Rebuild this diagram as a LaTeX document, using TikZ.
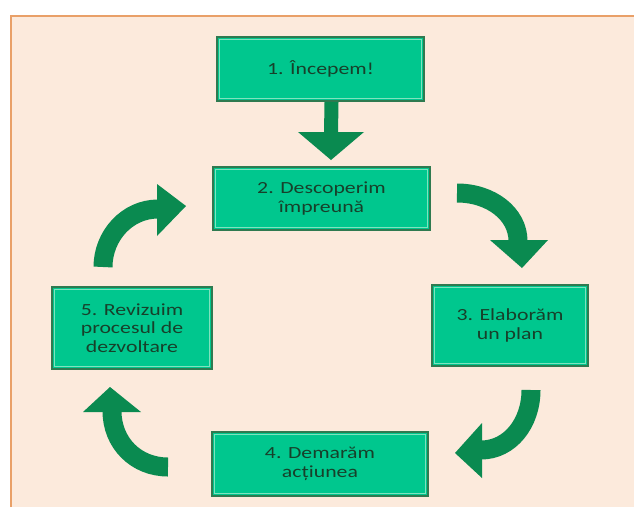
\documentclass[tikz,border=0pt]{standalone}
\usepackage{fontspec}
\setmainfont{Carlito}
\newfontfamily\boxfont[FakeStretch=1.28]{Carlito}
\definecolor{bgpeach}{HTML}{FCEADC}
\definecolor{frameor}{HTML}{E9A068}
\definecolor{boxfill}{HTML}{00C78E}
\definecolor{boxline}{HTML}{2F7A50}
\definecolor{boxinner}{HTML}{80E2BE}
\definecolor{arrowgreen}{HTML}{0A8A50}
\definecolor{textgreen}{HTML}{17402A}
\tikzset{
  stepbox/.style={draw=boxline, line width=2pt, fill=boxfill, text=textgreen,
    align=center, inner sep=0pt, font=\boxfont\fontsize{17}{18.5}\selectfont},
  bandline/.style={draw=arrowgreen, line width=19pt, line cap=butt},
  headtri/.style={fill=arrowgreen, draw=none}
}
\newcommand{\innerframe}[1]{%
  \draw[boxinner, line width=1pt] ([xshift=3.5pt,yshift=-3.5pt]#1.north west) rectangle ([xshift=-3.5pt,yshift=3.5pt]#1.south east);}
\begin{document}
\begin{tikzpicture}[x=1pt,y=-1pt]
\useasboundingbox (0,0) rectangle (634,507);
\fill[white] (0,0) rectangle (634,507);
\fill[bgpeach] (10,15) rectangle (634,507);
\draw[frameor, line width=2.5pt] (11,507) -- (11,16) -- (634,16);

\node[stepbox, minimum width=207pt, minimum height=64pt] (b1) at (320.5,69) {1. Începem!};
\node[stepbox, minimum width=217pt, minimum height=63pt] (b2) at (321.5,198.5) {2. Descoperim\\împreună};
\node[stepbox, minimum width=156pt, minimum height=81pt] (b3) at (510,325.5) {3. Elaborăm\\un plan};
\node[stepbox, minimum width=216pt, minimum height=64pt] (b4) at (320,464) {4. Demarăm\\acțiunea};
\node[stepbox, minimum width=160pt, minimum height=82pt] (b5) at (132,328) {5. Revizuim\\procesul de\\dezvoltare};
\foreach \b in {b1,b2,b3,b4,b5} {\innerframe{\b}}

% straight arrow 1 -> 2
\coordinate (s1) at ([xshift=11pt]b1.south);
\coordinate (h1) at (331,134);
\draw[draw=arrowgreen, line width=14pt] (s1) -- (h1);
\fill[headtri] (298,132) -- (364,132) -- (331,160) -- cycle;

% arrow 5 -> 2 (top-left)
\coordinate (t52) at (103,267);
\coordinate (e52) at (158,209);
\draw[bandline] (t52) .. controls (103,236) and (127,209) .. (e52);
\fill[headtri] (157,184) -- (186,206) -- (157,236) -- cycle;

% arrow 2 -> 3 (top-right)
\coordinate (t23) at (457,193);
\coordinate (e23) at (518,241);
\draw[bandline] (t23) .. controls (491,193) and (518,214) .. (e23);
\fill[headtri] (490,240) -- (548,240) -- (522,268) -- cycle;

% arrow 3 -> 4 (bottom-right)
\coordinate (t34) at (531,390);
\coordinate (e34) at (481,450);
\draw[bandline] (t34) .. controls (531,423) and (510,450) .. (e34);
\fill[headtri] (482,423) -- (482,478) -- (455,453) -- cycle;

% arrow 4 -> 5 (bottom-left)
\coordinate (t45) at (168,467);
\coordinate (e45) at (112,411);
\draw[bandline] (t45) .. controls (136,467) and (112,443) .. (e45);
\fill[headtri] (83,412) -- (141,412) -- (110,387) -- cycle;
\end{tikzpicture}
\end{document}
